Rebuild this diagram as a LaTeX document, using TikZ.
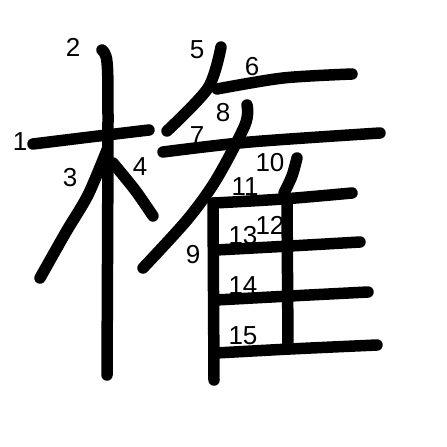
\documentclass[tikz,border=0pt]{standalone}
\usepackage{fontspec}
\setmainfont{Liberation Sans}
\begin{document}
\begin{tikzpicture}[x=1pt,y=-1pt,
  stroke/.style={line width=11.5pt,line cap=round,line join=round,black},
  num/.style={font=\fontsize{26}{26}\selectfont,inner sep=0pt}]
\useasboundingbox (0,0) rectangle (447,447);
% strokes
\draw[stroke] plot[smooth] coordinates {(33,144) (90,137) (149,130)};
\draw[stroke] plot[smooth] coordinates {(102,50) (107,62) (108,120) (107,375)};
\draw[stroke] plot[smooth] coordinates {(107,150) (88,195) (66,232) (40,278)};
\draw[stroke] plot[smooth] coordinates {(113,163) (135,190) (153,216)};
\draw[stroke] plot[smooth] coordinates {(221,47) (208,88) (167,131)};
\draw[stroke] plot[smooth] coordinates {(217,89) (283,78) (352,74)};
\draw[stroke] plot[smooth] coordinates {(163,152) (250,142) (380,133)};
\draw[stroke] plot[smooth] coordinates {(247,105) (245,125) (216,180) (187,220) (143,268)};
\draw[stroke] (213,203) -- (214,380);
\draw[stroke] plot[smooth] coordinates {(297,158) (292,176) (284,193)};
\draw[stroke] plot[smooth] coordinates {(214,203) (283,199) (352,193)};
\draw[stroke] (287,202) -- (288,345);
\draw[stroke] plot[smooth] coordinates {(216,250) (290,246) (360,242)};
\draw[stroke] plot[smooth] coordinates {(216,300) (290,296) (368,292)};
\draw[stroke] plot[smooth] coordinates {(216,353) (290,349) (377,345)};
% numbers
\node[num] (n1) at (20,142) {1};
\node[num] (n2) at (73,47) {2};
\node[num] (n3) at (70,178) {3};
\node[num] (n4) at (140,167) {4};
\node[num] (n5) at (197,50) {5};
\node[num] (n6) at (252,67) {6};
\node[num] (n7) at (197,136) {7};
\node[num] (n8) at (223,113) {8};
\node[num] (n9) at (193,255) {9};
\node[num] (n10) at (270,163) {10};
\node[num] (n11) at (245,187) {11};
\node[num] (n12) at (270,225) {12};
\node[num] (n13) at (243,236) {13};
\node[num] (n14) at (243,286) {14};
\node[num] (n15) at (243,336) {15};
\end{tikzpicture}
\end{document}
